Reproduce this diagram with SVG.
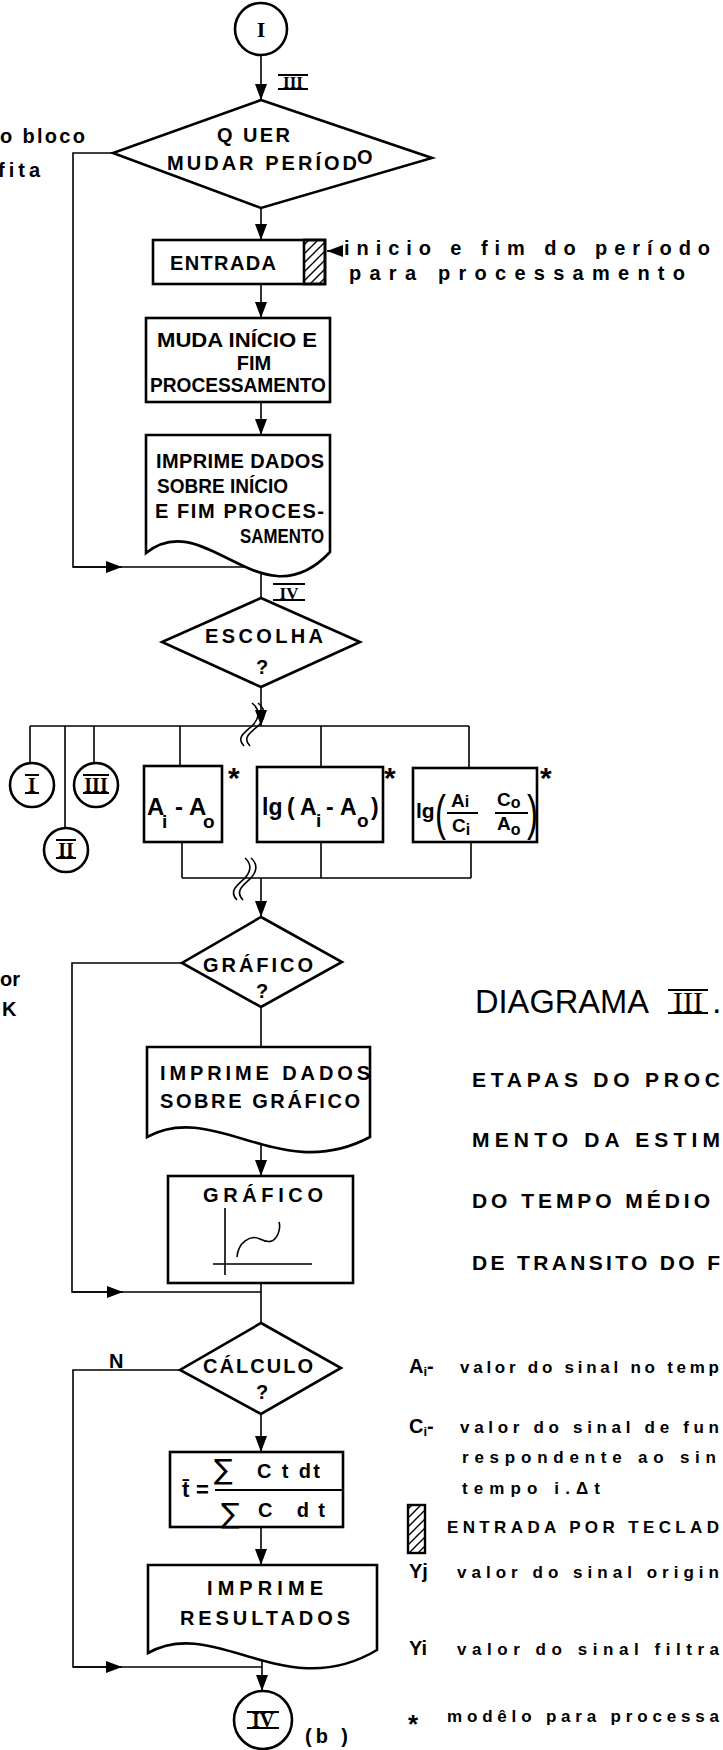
<svg xmlns="http://www.w3.org/2000/svg" width="723" height="1750" viewBox="0 0 723 1750">
<style>
.ln{stroke:#000;stroke-width:1.6;fill:none}
.bx{stroke:#000;stroke-width:2.6;fill:#fff}
.t{font-family:"Liberation Sans",Arial,sans-serif;font-weight:bold;fill:#000}
.tc{text-anchor:middle}
.r{font-family:"Liberation Serif","Times New Roman",serif;font-weight:bold;fill:#000;text-anchor:middle}
.lg{font-family:"Liberation Sans",Arial,sans-serif;font-weight:bold;fill:#000}
.bar{stroke:#000;stroke-width:2}
</style>
<defs>
<marker id="ah" markerUnits="userSpaceOnUse" viewBox="0 0 16 12" markerWidth="16" markerHeight="12" refX="16" refY="6" orient="auto"><path d="M0,0 L16,6 L0,12 z" fill="#000"/></marker>
<pattern id="hatch" patternUnits="userSpaceOnUse" width="9" height="9"><path d="M0,9 L9,0 M-4.5,4.5 L4.5,-4.5 M4.5,13.5 L13.5,4.5" stroke="#000" stroke-width="1.4"/></pattern>
</defs>

<g id="connectors">
<path class="ln" d="M261,55 V100" marker-end="url(#ah)"/>
<path class="ln" d="M113,153 H73 V567 H261"/>
<path class="ln" d="M73,567 H122" marker-end="url(#ah)"/>
<path class="ln" d="M261,208 V240" marker-end="url(#ah)"/>
<path class="ln" d="M341,251 H327" marker-end="url(#ah)"/>
<path class="ln" d="M261,284 V318" marker-end="url(#ah)"/>
<path class="ln" d="M261,402 V435" marker-end="url(#ah)"/>
<path class="ln" d="M261,560 V598"/>
<path class="ln" d="M261,687 V726" marker-end="url(#ah)"/>
<path class="ln" d="M30,726 H469"/>
<path class="ln" d="M30,726 V763 M65,726 V828 M94,726 V763 M180,726 V766 M321,726 V767 M469,726 V768"/>
<path class="ln" d="M252,703 C262,711 258,720 252,726 C244,733 236,738 244,746 M258,703 C268,711 264,720 258,726 C250,733 242,738 250,746"/>
<path class="ln" d="M182,842 V878 M321,842 V878 M471,842 V878 M182,878 H471"/>
<path class="ln" d="M245,858 C253,865 250,873 244,879 C236,886 229,892 237,900 M251,858 C259,865 256,873 250,879 C242,886 235,892 243,900"/>
<path class="ln" d="M261,878 V917" marker-end="url(#ah)"/>
<path class="ln" d="M182,963 H72 V1292 H261"/>
<path class="ln" d="M72,1292 H123" marker-end="url(#ah)"/>
<path class="ln" d="M261,1007 V1047"/>
<path class="ln" d="M261,1143 V1176" marker-end="url(#ah)"/>
<path class="ln" d="M261,1283 V1323"/>
<path class="ln" d="M180,1370 H73 V1667 H262"/>
<path class="ln" d="M73,1667 H122" marker-end="url(#ah)"/>
<path class="ln" d="M261,1414 V1452" marker-end="url(#ah)"/>
<path class="ln" d="M261,1527 V1565" marker-end="url(#ah)"/>
<path class="ln" d="M262,1660 V1691" marker-end="url(#ah)"/>
</g>

<g id="start">
<circle class="bx" cx="261" cy="29" r="26"/>
<text class="r" x="261" y="37" style="font-size:22px">I</text>
</g>
<g id="lbl-iii">
<text class="r" x="293" y="88" style="font-size:17px">III</text>
<path class="bar" d="M278,75 H308 M278,89 H308"/>
</g>
<g id="left-notes" style="font-size:20px">
<text class="t" x="0" y="143" textLength="85" lengthAdjust="spacing">o bloco</text>
<text class="t" x="-2" y="177" textLength="42" lengthAdjust="spacing">fita</text>
<text class="t" x="0" y="986" textLength="20" lengthAdjust="spacing">or</text>
<text class="t" x="2" y="1016">K</text>
</g>

<g id="d-periodo" style="font-size:20px">
<path class="bx" d="M261,100 L432,158 L261,208 L113,153 Z"/>
<text class="t" x="217" y="142" textLength="73" lengthAdjust="spacing">Q UER</text>
<text class="t" x="167" y="170" textLength="190" lengthAdjust="spacing">MUDAR PERÍOD</text>
<text class="t" x="357" y="164">O</text>
</g>

<g id="entrada" style="font-size:20px">
<rect class="bx" x="153" y="240" width="172" height="44"/>
<rect x="304" y="240" width="21" height="44" fill="url(#hatch)" stroke="#000" stroke-width="2.6"/>
<text class="t" x="170" y="270" textLength="106" lengthAdjust="spacing">ENTRADA</text>
<text class="t" x="344" y="255" textLength="366" lengthAdjust="spacing">inicio e fim  do período</text>
<text class="t" x="349" y="280" textLength="336" lengthAdjust="spacing">para processamento</text>
</g>

<g id="muda" style="font-size:20px">
<rect class="bx" x="146" y="318" width="184" height="84"/>
<text class="t" x="157" y="347" textLength="160" lengthAdjust="spacingAndGlyphs">MUDA INÍCIO E</text>
<text class="t tc" x="254" y="370">FIM</text>
<text class="t" x="150" y="392" textLength="176" lengthAdjust="spacingAndGlyphs">PROCESSAMENTO</text>
</g>

<g id="imprime-inicio" style="font-size:20px">
<path class="bx" d="M146,435 H330 V552 C262,625 205,505 146,553 Z"/>
<text class="t" x="156" y="468" textLength="168" lengthAdjust="spacing">IMPRIME DADOS</text>
<text class="t" x="157" y="493" textLength="131" lengthAdjust="spacingAndGlyphs">SOBRE INÍCIO</text>
<text class="t" x="155" y="518" textLength="169" lengthAdjust="spacing">E FIM PROCES-</text>
<text class="t" x="240" y="543" textLength="84" lengthAdjust="spacingAndGlyphs">SAMENTO</text>
</g>

<g id="lbl-iv">
<text class="r" x="289" y="599" style="font-size:17px">IV</text>
<path class="bar" d="M273,584 H305 M273,600 H305"/>
</g>

<g id="escolha" style="font-size:20px">
<path class="bx" d="M261,598 L360,642 L261,687 L162,642 Z"/>
<text class="t" x="205" y="643" textLength="118" lengthAdjust="spacing">ESCOLHA</text>
<text class="t tc" x="262" y="674">?</text>
</g>

<g id="c-i">
<circle class="bx" cx="32" cy="785" r="22"/>
<text class="r" x="32" y="792" style="font-size:20px">I</text>
<path class="bar" d="M25,775 H39 M25,793 H39"/>
</g>
<g id="c-ii">
<circle class="bx" cx="66" cy="850" r="22"/>
<text class="r" x="66" y="857" style="font-size:20px">II</text>
<path class="bar" d="M56,840 H76 M56,858 H76"/>
</g>
<g id="c-iii">
<circle class="bx" cx="96" cy="785" r="22"/>
<text class="r" x="96" y="792" style="font-size:20px">III</text>
<path class="bar" d="M83,775 H109 M83,793 H109"/>
</g>

<g id="m1">
<rect class="bx" x="144" y="766" width="78" height="76"/>
<text class="t" style="font-size:24px" y="815"><tspan x="147">A</tspan><tspan x="162" dy="13" style="font-size:19px">i</tspan><tspan x="175" dy="-13">-</tspan><tspan x="189">A</tspan><tspan x="203" dy="13" style="font-size:19px">o</tspan></text>
<text class="t" x="228" y="788" style="font-size:30px">*</text>
</g>
<g id="m2">
<rect class="bx" x="257" y="767" width="126" height="75"/>
<text class="t" style="font-size:23px" y="815"><tspan x="262">lg</tspan><tspan x="287">(</tspan><tspan x="300">A</tspan><tspan x="316" dy="12" style="font-size:19px">i</tspan><tspan x="326" dy="-12">-</tspan><tspan x="340">A</tspan><tspan x="357" dy="12" style="font-size:19px">o</tspan><tspan x="371" dy="-12">)</tspan></text>
<text class="t" x="384" y="788" style="font-size:30px">*</text>
</g>
<g id="m3" style="font-size:19px">
<rect class="bx" x="413" y="768" width="124" height="74"/>
<text class="t" x="416" y="818" style="font-size:21px">lg</text>
<text class="t" x="435" y="830" textLength="11" lengthAdjust="spacingAndGlyphs" style="font-size:50px;font-weight:normal">(</text>
<text class="t" x="451" y="807">A<tspan style="font-size:16px">i</tspan></text>
<path class="bar" d="M447,813 H478"/>
<text class="t" x="452" y="832">C<tspan style="font-size:16px" dy="3">i</tspan></text>
<text class="t" x="497" y="806">C<tspan style="font-size:16px" dy="2">o</tspan></text>
<path class="bar" d="M495,813 H528"/>
<text class="t" x="497" y="830">A<tspan style="font-size:16px" dy="5">o</tspan></text>
<text class="t" x="527" y="830" textLength="11" lengthAdjust="spacingAndGlyphs" style="font-size:50px;font-weight:normal">)</text>
<text class="t" x="540" y="788" style="font-size:30px">*</text>
</g>

<g id="d-grafico" style="font-size:20px">
<path class="bx" d="M261,917 L342,962 L261,1007 L182,963 Z"/>
<text class="t" x="203" y="972" textLength="110" lengthAdjust="spacing">GRÁFICO</text>
<text class="t tc" x="262" y="998">?</text>
</g>

<g id="imprime-grafico" style="font-size:20px">
<path class="bx" d="M147,1047 H370 V1137 C280,1185 215,1100 147,1137 Z"/>
<text class="t" x="160" y="1080" textLength="210" lengthAdjust="spacing">IMPRIME DADOS</text>
<text class="t" x="160" y="1108" textLength="200" lengthAdjust="spacing">SOBRE GRÁFICO</text>
</g>

<g id="grafico" style="font-size:20px">
<rect class="bx" x="168" y="1176" width="185" height="107"/>
<text class="t" x="203" y="1202" textLength="120" lengthAdjust="spacing">GRÁFICO</text>
<path class="ln" stroke-width="2.4" d="M225,1208 V1275 M213,1264 H312"/>
<path class="ln" d="M237,1257 C238,1243 250,1234 260,1239 C268,1243 274,1243 278,1234 C280,1229 280,1225 279,1222"/>
</g>

<g id="calculo" style="font-size:20px">
<path class="bx" d="M261,1323 L341,1368 L261,1414 L180,1370 Z"/>
<text class="t" x="203" y="1373" textLength="110" lengthAdjust="spacing">CÁLCULO</text>
<text class="t tc" x="262" y="1399">?</text>
<text class="t" x="109" y="1368">N</text>
</g>

<g id="formula" style="font-size:20px">
<rect class="bx" x="170" y="1452" width="173" height="75"/>
<text class="t" x="182" y="1497" style="font-size:22px">t̄</text>
<text class="t" x="196" y="1497" style="font-size:22px">=</text>
<path class="bar" d="M215,1490 H342"/>
<text x="214" y="1479" font-family="DejaVu Sans,sans-serif" font-size="28">∑</text>
<text class="t" x="257" y="1478" textLength="63" lengthAdjust="spacing">C t dt</text>
<text x="221" y="1523" font-family="DejaVu Sans,sans-serif" font-size="28">∑</text>
<text class="t" x="258" y="1517" textLength="67" lengthAdjust="spacing">C   dt</text>
</g>

<g id="imprime-resultados" style="font-size:20px">
<path class="bx" d="M148,1565 H377 V1650 C285,1705 215,1615 148,1653 Z"/>
<text class="t" x="207" y="1595" textLength="116" lengthAdjust="spacing">IMPRIME</text>
<text class="t" x="180" y="1625" textLength="170" lengthAdjust="spacing">RESULTADOS</text>
</g>

<g id="end" style="font-size:20px">
<circle class="bx" cx="263" cy="1720" r="29"/>
<text class="r" x="263" y="1727">IV</text>
<path class="bar" d="M247,1712 H279 M247,1728 H279"/>
<text class="t" x="305" y="1743" textLength="43" lengthAdjust="spacing">(b )</text>
</g>

<g id="title">
<text x="475" y="1013" font-family="Liberation Sans,Arial,sans-serif" font-size="34" textLength="174" lengthAdjust="spacingAndGlyphs">DIAGRAMA</text>
<text x="688" y="1012" font-family="Liberation Serif,serif" font-size="30" text-anchor="middle">III</text>
<path class="bar" d="M668,990 H708 M668,1013 H708"/>
<text x="712" y="1013" font-family="Liberation Sans,Arial,sans-serif" font-size="34">.</text>
<g class="t" style="font-size:21px">
<text x="472" y="1087" textLength="248" lengthAdjust="spacing">ETAPAS DO PROC</text>
<text x="472" y="1147" textLength="248" lengthAdjust="spacing">MENTO DA ESTIM</text>
<text x="472" y="1208" textLength="238" lengthAdjust="spacing">DO TEMPO MÉDIO</text>
<text x="472" y="1270" textLength="248" lengthAdjust="spacing">DE TRANSITO DO F</text>
</g>
</g>

<g id="legend" class="lg" style="font-size:17px">
<text x="409" y="1373" style="font-size:20px">A<tspan style="font-size:13px" dy="3">i</tspan><tspan dy="-3">-</tspan></text>
<text x="460" y="1373" textLength="259" lengthAdjust="spacing">valor do sinal no temp</text>
<text x="409" y="1433" style="font-size:20px">C<tspan style="font-size:13px" dy="3">i</tspan><tspan dy="-3">-</tspan></text>
<text x="460" y="1433" textLength="259" lengthAdjust="spacing">valor do sinal de fun</text>
<text x="462" y="1463" textLength="254" lengthAdjust="spacing">respondente ao sin</text>
<text x="462" y="1494" textLength="138" lengthAdjust="spacing">tempo i.Δt</text>
<rect x="408" y="1505" width="17" height="48" fill="url(#hatch)" stroke="#000" stroke-width="2.4"/>
<text x="447" y="1533" textLength="272" lengthAdjust="spacing">ENTRADA POR TECLAD</text>
<text x="409" y="1578" style="font-size:20px">Yj</text>
<text x="457" y="1578" textLength="262" lengthAdjust="spacing">valor do sinal origin</text>
<text x="409" y="1655" style="font-size:20px">Yi</text>
<text x="457" y="1655" textLength="262" lengthAdjust="spacing">valor do sinal filtra</text>
<text x="408" y="1733" style="font-size:26px">*</text>
<text x="447" y="1722" textLength="272" lengthAdjust="spacing">modêlo para processa</text>
</g>
</svg>
